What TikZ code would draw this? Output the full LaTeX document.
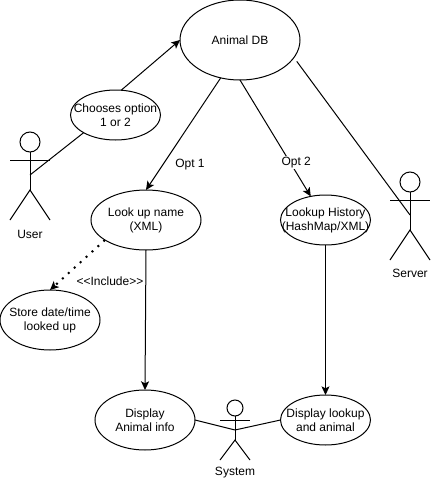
\documentclass[tikz,border=0pt]{standalone}
\usepackage{fontspec}
\setmainfont{Liberation Sans}
\usetikzlibrary{arrows.meta,shapes.geometric}

\tikzset{
  usecase/.style={ellipse, draw, align=center, inner xsep=-14pt, inner ysep=0pt, outer sep=0pt},
  caption/.style={align=center, inner sep=1pt},
  usearrow/.style={-{Stealth[length=6.5pt, width=6pt, inset=1.5pt]}},
  includearrow/.style={usearrow, line width=1.5pt, dash pattern=on 1.5pt off 4.5pt},
  pics/actor/.style n args={5}{code={
    \draw (0,0) circle (#1);
    \draw (0,#1) -- (0,#3);
    \draw (-#4,#2) -- (#4,#2);
    \draw (-#4,#5) -- (0,#3) -- (#4,#5);
    \coordinate (-grip) at (0,0.6875*#3);
  }}
}

\begin{document}
\begin{tikzpicture}[x=0.75pt, y=-0.75pt, line width=0.75pt, font=\fontsize{9}{10.5}\selectfont]
         \useasboundingbox (0,0) rectangle (431,482);

         \node [usecase, minimum width=90pt,    minimum height=60pt]   (animaldb)   at (240,40)    {Animal DB};
         \node [usecase, minimum width=67.5pt,  minimum height=37.5pt] (chooses)    at (115.5,115) {Chooses option\\ 1 or 2};
         \node [usecase, minimum width=82.5pt,  minimum height=45pt]   (lookupname) at (146,220)   {Look up name\\ (XML)};
         \node [usecase, minimum width=67.5pt,  minimum height=37.5pt] (lookuphist) at (325.5,220) {Lookup History\\ (HashMap/XML)};
         \node [usecase, minimum width=75pt,    minimum height=45pt]   (storedate)  at (50,320)    {Store date/time\\ looked up};
         \node [usecase, minimum width=75pt,    minimum height=45pt]   (dispanimal) at (145,420)   {Display\\ Animal info};
         \node [usecase, minimum width=67.5pt,  minimum height=37.5pt] (displookup) at (325.5,420) {Display lookup\\ and animal};

         \pic (user)   at (30,142)  {actor={10}{18}{48}{20}{78}};
         \pic (server) at (410,182) {actor={10}{18}{48}{20}{78}};
         \pic (system) at (235,408) {actor={8}{12}{32}{15}{52}};

         \node [caption] (userlabel)   at (30,234)  {User};
         \node [caption] (serverlabel) at (410,273) {Server};
         \node [caption] (systemlabel) at (235,473) {System};
         \node [caption] (optone)      at (190,165) {Opt 1};
         \node [caption] (include)     at (110,281) {{<}{<}Include{>}{>}};

         \draw (user-grip) -- (chooses.209.6);
         \draw [usearrow] (chooses.77.6) -- (animaldb.west);

         \draw [usearrow] (animaldb.243.7) -- (lookupname.north);
         \draw [usearrow] (animaldb.south) -- node[caption, fill=white, pos=0.71, xshift=4.5pt]{Opt 2} (lookuphist.122);
         \draw [shorten <=3.6pt] (animaldb.-18.8) -- (server-grip);

         \draw [includearrow] (lookupname.206.6) -- (storedate.north);
         \draw [usearrow] (lookupname.south) -- (dispanimal.north);
         \draw [usearrow] (lookuphist.south) -- (displookup.north);

         \draw (dispanimal.east) -- (system-grip);
         \draw (displookup.west) -- (system-grip);
\end{tikzpicture}
\end{document}
